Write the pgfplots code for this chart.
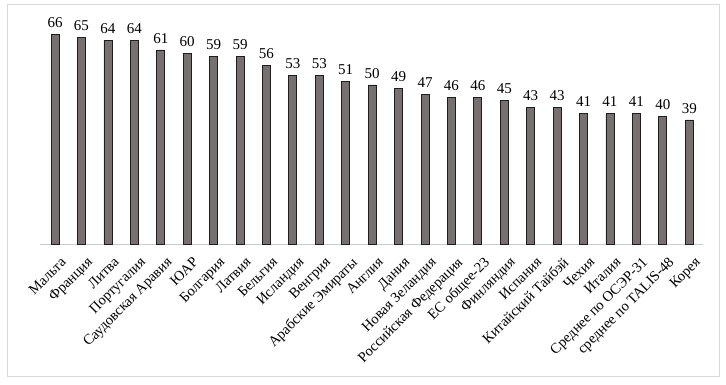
\documentclass[border=0pt]{standalone}
\usepackage{fontspec}
\setmainfont{Liberation Serif}
\usepackage{pgfplots}
\pgfplotsset{compat=1.18}
\definecolor{barfill}{HTML}{767070}
\definecolor{barline}{HTML}{1E1E1E}
\begin{document}
\begin{tikzpicture}
\useasboundingbox (0pt,0pt) rectangle (726pt,384pt);
\fill[white] (0pt,0pt) rectangle (726pt,384pt);
\draw[color=black!15, line width=1pt] (7pt,8pt) rectangle (719.5pt,379pt);
\begin{axis}[
  at={(40pt,140pt)}, anchor=south west,
  scale only axis, width=663pt, height=210pt,
  ybar, bar width=8pt,
  ymin=0, ymax=66, xmin=-0.57, xmax=24.52,
  axis x line*=bottom, axis y line=none,
  x axis line style={draw=black!20, line width=0.8pt, -},
  ytick=\empty,
  xtick={0,...,24},
  major tick length=0pt,
  /pgf/number format/assume math mode=true,
  xticklabels={Мальта, Франция, Литва, Португалия, Саудовская Аравия, ЮАР, Болгария, Латвия, Бельгия, Исландия, Венгрия, Арабские Эмираты, Англия, Дания, Новая Зеландия, Российская Федерация, ЕС общее-23, Финляндия, Испания, Китайский Тайбэй, Чехия, Италия, Среднее по ОСЭР-31, среднее по TALIS-48, Корея},
  xticklabel style={rotate=45, anchor=north east, font=\fontsize{14.5}{14.5}\selectfont, inner sep=0pt, xshift=-5pt, yshift=-12pt},
  nodes near coords,
  nodes near coords style={font=\fontsize{15}{15}\selectfont, yshift=3pt},
  clip=false,
]
\addplot[fill=barfill, draw=barline, line width=0.8pt] coordinates {
(0,66) (1,65) (2,64) (3,64) (4,61) (5,60) (6,59) (7,59) (8,56) (9,53) (10,53) (11,51) (12,50) (13,49) (14,47) (15,46) (16,46) (17,45) (18,43) (19,43) (20,41) (21,41) (22,41) (23,40) (24,39)
};
\end{axis}
\end{tikzpicture}
\end{document}
